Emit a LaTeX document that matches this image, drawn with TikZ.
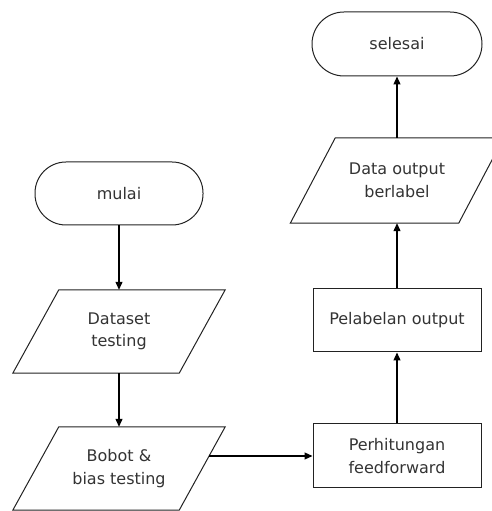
\documentclass[tikz,border=0pt]{standalone}
\usepackage{fontspec}
\setmainfont{DejaVu Sans}
\usetikzlibrary{arrows.meta}
\definecolor{linec}{HTML}{222222}
\definecolor{textc}{HTML}{333333}
\tikzset{
  base/.style={inner sep=0pt, text=textc, align=center, font=\fontsize{16}{22.5}\selectfont},
  term/.style={base, draw=linec, line width=1pt, rectangle, rounded corners=31pt, minimum width=168pt, minimum height=63pt},
  proc/.style={base, draw=linec, line width=1pt, rectangle, minimum width=168pt, minimum height=63pt},
  iobox/.style={base, rectangle, minimum width=212pt, minimum height=83pt},
  para/.style={draw=linec, line width=1pt, line join=miter},
  conn/.style={draw=black, line width=1.2pt, -{Triangle[length=8pt,width=7pt]}}
}
\begin{document}
\begin{tikzpicture}[x=1pt,y=1pt]
\useasboundingbox (0,0) rectangle (492,511);
\node[term] (mulai) at (119,317.5) {mulai};
\node[iobox] (ds) at (119,179.5) {Dataset\\testing};
\node[iobox] (bb) at (119,42.5) {Bobot \&\\bias testing};
\node[proc, minimum height=64pt] (pf) at (397,55) {Perhitungan\\feedforward};
\node[proc] (pl) at (397,190.5) {Pelabelan output};
\node[iobox, minimum width=213pt, minimum height=85pt] (do) at (397,330.5) {Data output\\berlabel};
\node[term, minimum width=170pt, minimum height=64pt, rounded corners=32pt] (sel) at (397,467) {selesai};
% parallelograms
\draw[para] (ds.south west) -- ([xshift=-46pt]ds.south east) -- (ds.north east) -- ([xshift=46pt]ds.north west) -- cycle;
\draw[para] (bb.south west) -- ([xshift=-46pt]bb.south east) -- (bb.north east) -- ([xshift=46pt]bb.north west) -- cycle;
\draw[para] (do.south west) -- ([xshift=-45pt]do.south east) -- (do.north east) -- ([xshift=45pt]do.north west) -- cycle;
% connectors
\coordinate (bbout) at (209,55);
\draw[conn] (mulai.south) -- (ds.north);
\draw[conn] (ds.south) -- (bb.north);
\draw[conn] (bbout) -- (pf.west);
\draw[conn] (pf.north) -- (pl.south);
\draw[conn] (pl.north) -- (do.south);
\draw[conn] (do.north) -- (sel.south);
\end{tikzpicture}
\end{document}
